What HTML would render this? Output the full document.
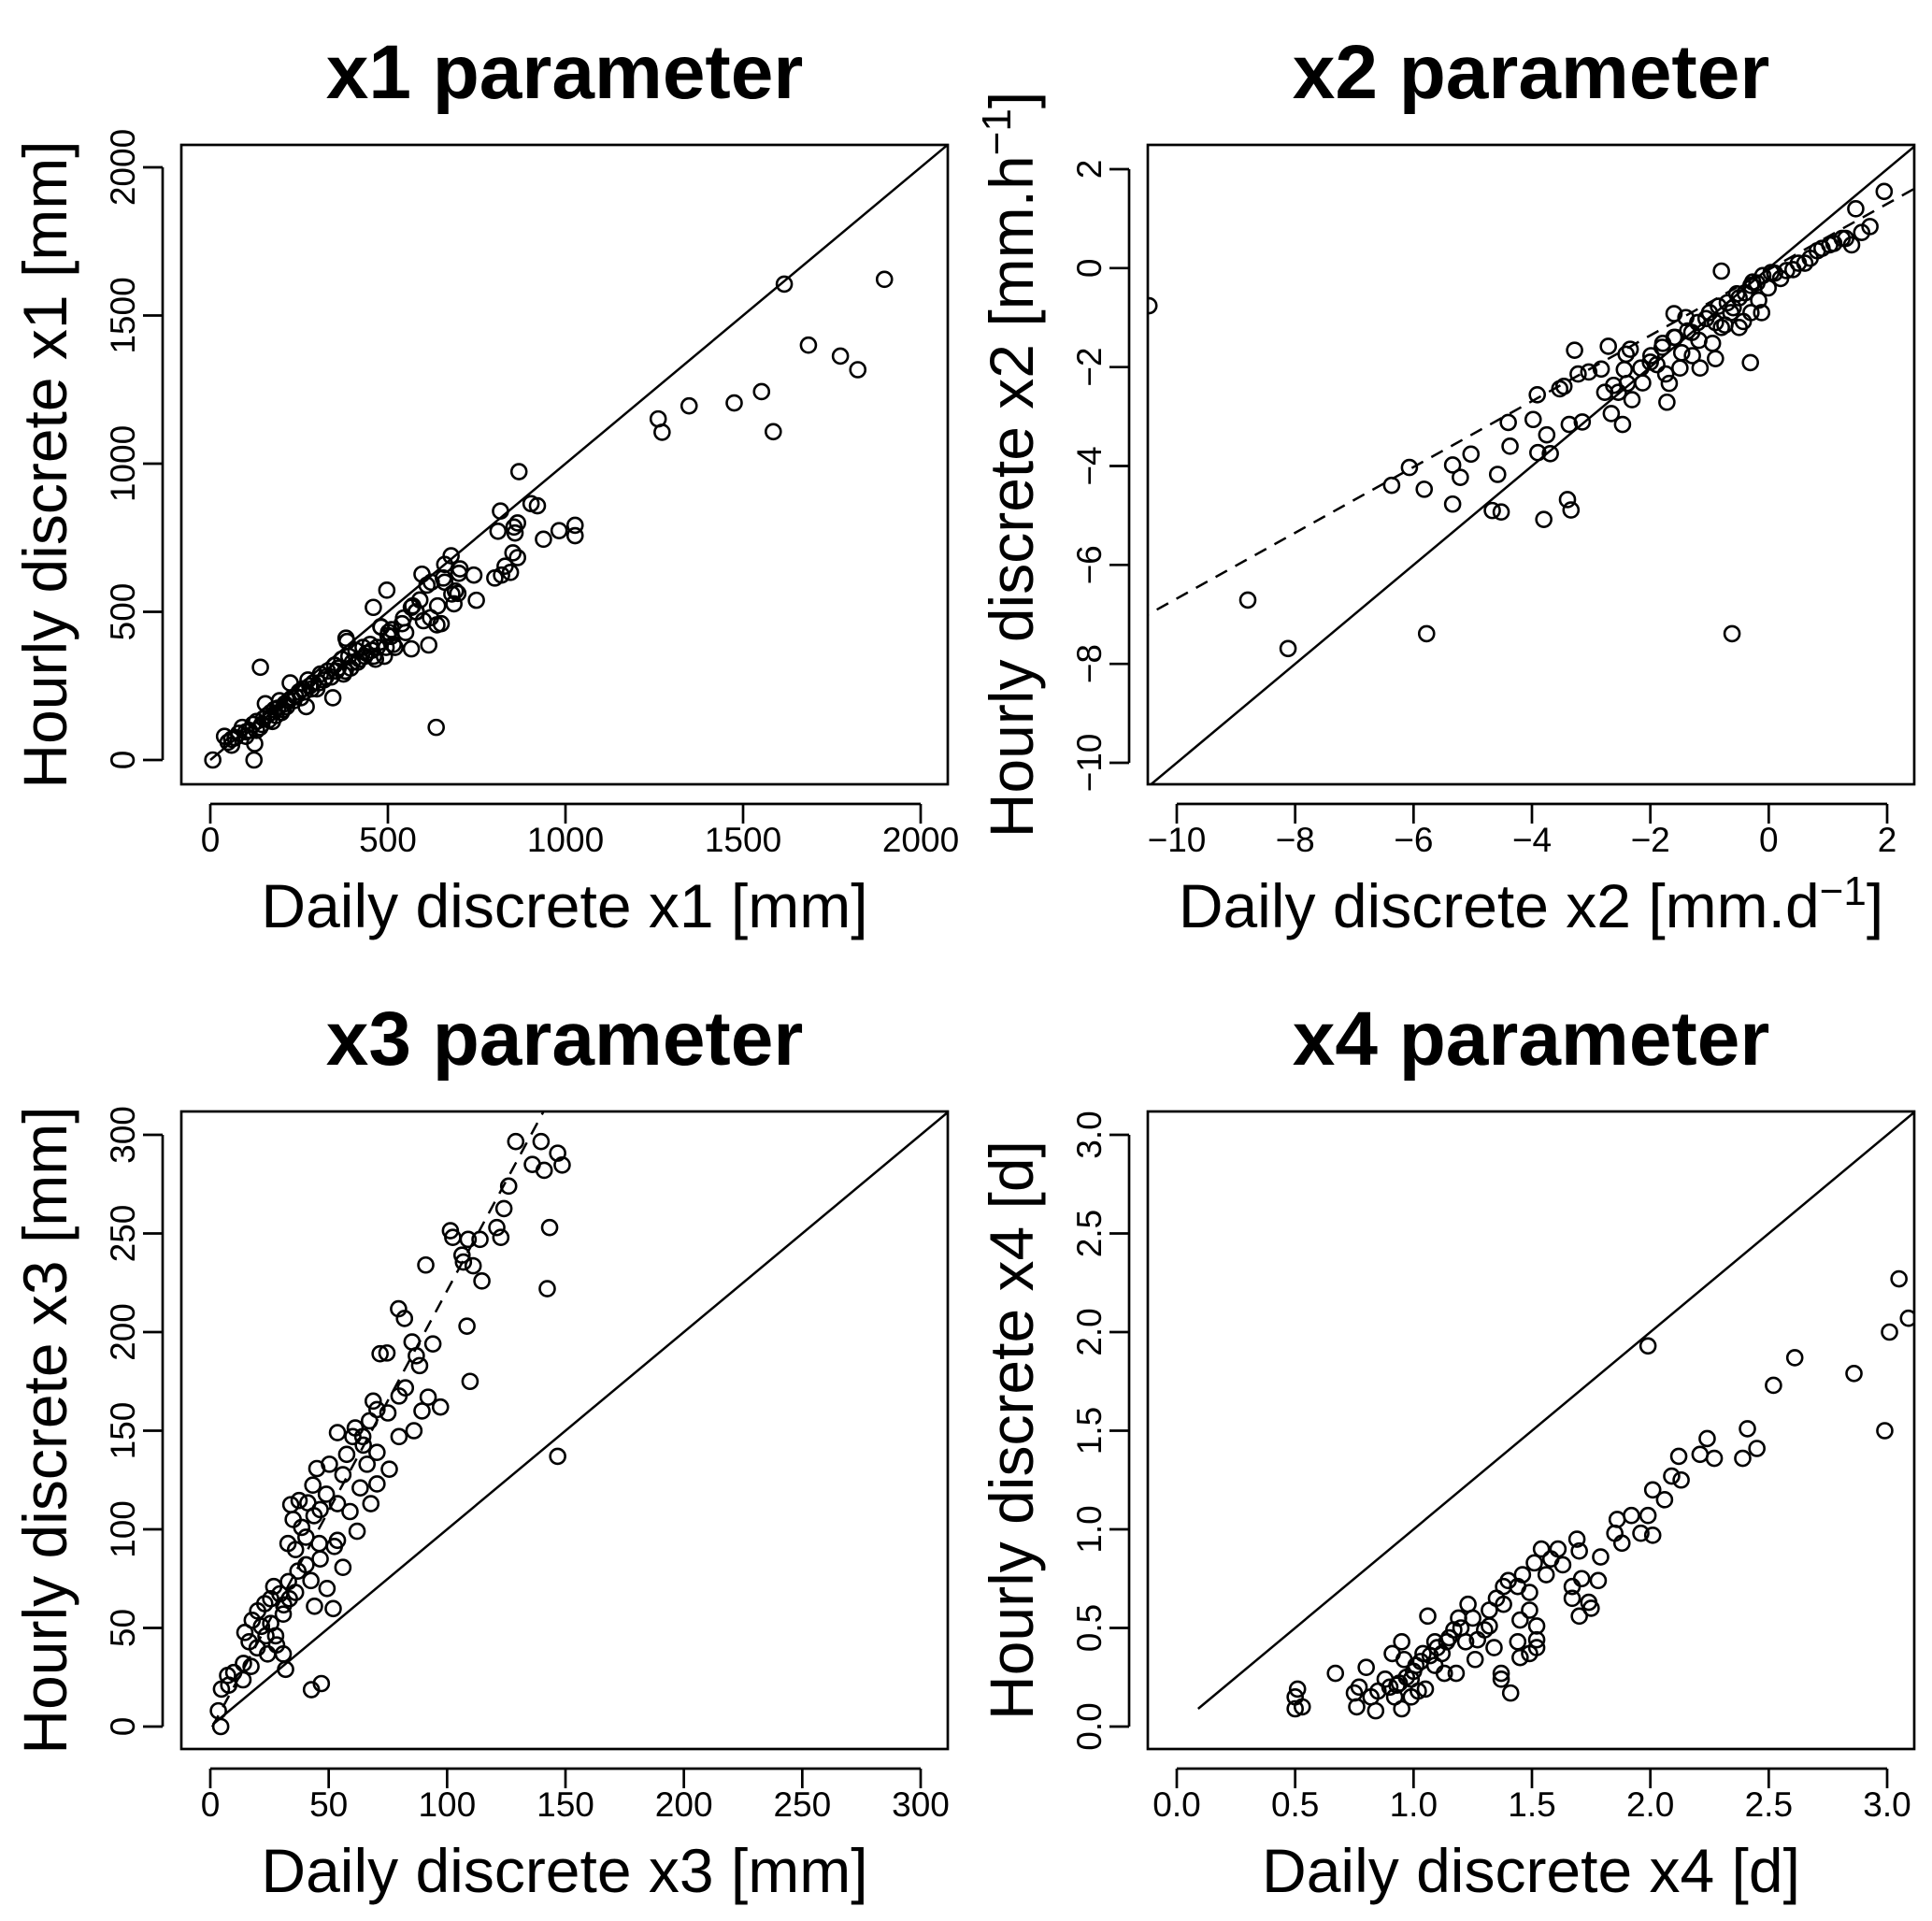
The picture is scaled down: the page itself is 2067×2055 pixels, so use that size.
<!DOCTYPE html>
<html><head><meta charset="utf-8"><style>
html,body{margin:0;padding:0;background:#fff;}
svg{display:block;font-family:"Liberation Sans",Arial,sans-serif;}
</style></head><body>
<svg id="fig" width="2067" height="2055" viewBox="0 0 2067 2055" xmlns="http://www.w3.org/2000/svg"></svg>
<script>
// ---- Panel 1 data (x1) ----
const p1X = [1616,1898,1684,1774,1823,1552,1475,1348,1261,1272,1585,869,817,903,921,982,1027,1027,938,810,855,865,858,845,801,820,830,852,865,678,703,742,749,686,697,660,656,638,596,622,497,459,544,566,579,566,615,481,502,509,636,141,382,7,123,
40,50,60,70,80,90,100,110,120,125,130,140,150,155,160,170,175,180,190,195,200,210,220,225,230,240,250,260,270,275,280,290,300,310,320,330,340,345,350,360,370,380,385,390,400,410,420,430,440,450,460,470,480,490,500,510,520,540,550,570,580,590,600,610,620,640,650,660,680,690,700,
60,100,130,145,165,185,205,215,235,255,265,285,305,325,355,375,395,415,435,455,465,495,515];
const p1Y = [1606,1622,1400,1363,1317,1243,1205,1195,1151,1106,1108,973,840,865,858,774,792,757,745,772,786,800,766,633,614,624,654,699,683,689,645,624,539,527,562,660,614,456,627,600,573,515,479,515,500,375,388,448,431,417,110,313,411,0,0,
80,60,70,75,90,110,95,100,120,55,130,110,140,190,150,160,130,170,175,200,160,190,200,260,210,215,230,240,180,270,250,260,240,290,270,300,280,210,320,310,340,300,400,350,330,370,340,380,360,390,350,380,450,350,420,440,380,460,430,520,500,540,470,590,480,520,460,600,560,570,630,
50,80,100,120,135,150,170,180,200,210,230,240,260,280,300,290,310,330,350,370,340,380,390];
const p1Ticks = [0,500,1000,1500,2000];

// ---- Panel 2 data (x2) ----
const p2X = [-10.47,-8.8,-8.12,-5.78,-0.62,-6.37,-6.07,-5.82,-5.34,-5.21,-5.34,-5.03,-4.58,-4.67,-4.52,-4.40,-4.37,-3.98,-3.91,-3.90,-3.75,-3.69,-3.80,-3.40,-3.34,-3.53,-3.46,-3.37,-3.15,-3.28,-3.22,-3.04,-2.83,-2.77,-2.71,-2.66,-2.62,-2.54,-2.47,-2.44,-2.41,-2.34,-2.31,-2.39,-2.16,-2.13,-1.99,-1.89,-1.79,-1.74,-1.72,-1.68,-1.60,-1.58,-1.50,-1.47,-1.37,-1.29,-1.18,-1.16,-1.06,-0.95,-0.90,-0.85,-0.80,-0.74,-0.64,-0.54,-0.43,-0.31,-0.27,-0.17,-0.12,-0.01,0.04,0.20,0.41,0.61,0.82,1.03,1.24,1.40,1.47,1.57,1.71,1.95,
-1.4,-1.2,-1.0,-0.9,-0.7,-0.6,-0.5,-0.4,-0.3,-0.2,-0.1,0.1,0.3,0.5,0.7,0.9,1.1,1.3,-1.8,-2.0,-1.6,-1.3,-0.8,-0.5,-0.3];
const p2Y = [-0.76,-6.71,-7.69,-7.39,-7.39,-4.39,-4.03,-4.47,-3.98,-4.23,-4.77,-3.76,-4.17,-4.90,-4.93,-3.12,-3.60,-3.06,-2.56,-3.73,-3.37,-3.75,-5.08,-4.68,-4.89,-2.44,-2.39,-3.16,-3.11,-1.66,-2.14,-2.10,-2.04,-2.51,-1.58,-2.94,-2.37,-2.51,-3.16,-2.05,-1.74,-1.64,-2.66,-2.33,-2.02,-2.32,-1.77,-1.95,-1.52,-2.14,-2.71,-2.33,-0.92,-1.40,-2.02,-1.71,-1.27,-1.77,-1.46,-2.02,-1.02,-1.52,-1.83,-0.77,-0.06,-1.15,-0.90,-0.52,-1.08,-1.91,-0.28,-0.65,-0.90,-0.40,-0.09,-0.21,-0.03,0.10,0.35,0.47,0.60,0.47,1.20,0.72,0.84,1.55,
-1.0,-1.1,-0.9,-1.1,-0.7,-0.8,-0.6,-0.5,-0.35,-0.3,-0.15,-0.1,-0.05,0.1,0.2,0.4,0.5,0.6,-1.6,-1.9,-1.4,-1.3,-1.2,-1.2,-0.9];
const p2XTicks = [-10,-8,-6,-4,-2,0,2];
const p2YTicks = [-10,-8,-6,-4,-2,0,2];

// ---- Panel 3 data (x3) ----
const p3X = [129,139.7,136,141,146.7,148.6,143.3,142.3,146.7,126,124,121,122.7,113.9,108.9,101.4,102.4,106.3,106.9,111,114.7,91,108.4,109.7,79.5,82,71.7,74.6,85.2,94,87,88.4,82.4,79.7,92,89.4,97.2,86,79.7,68.8,70.4,75,67.2,60.2,53.7,64.4,70.4,75.6,66.2,67.8,70.4,63.3,56,50.3,45,43.3,49,53.7,59,62,34,37.5,41.2,35,43.8,46.4,38.6,32.8,36,40.4,46,53.7,52.4,46.4,56,40.4,37,42.5,49.3,44,33,36,26.8,25.5,29.4,31,23,20,17.7,21.6,25.5,14.6,16.4,19.8,24.2,28,30.8,23.5,27.6,14,17.2,9.9,7.3,4.7,7.8,13.8,3.4,4.4,31.8,42.7,46.9,51.9,30.8,33.4,57.6,64.6,61.2];
const p3Y = [296.6,296.6,285,282,290.7,284.7,253,222,137,274,262.6,253,248,247,247,251.4,248,239,235.5,233.6,225.9,234,203,175,211.8,206.9,189,189.4,195,194,188,183,171.7,167.6,167,160,162,150,147,165,160.7,159,155,147,149,147,139,130.5,133,113,123,121,127.7,133,130.8,122.4,117.8,113,109,99,112.5,114.6,113.4,105,106.9,110,101,92.8,89.7,96,92.8,94.4,91.3,85,80.7,82,78.8,74,70,61,73.5,68,71,64.8,67.3,61.7,62.3,58.6,53.9,50.8,52.3,47.7,43,39.9,36.8,41.4,36.8,46,46,32,30.5,27.4,25.9,19,21,23.7,8,0,29,18.7,21.8,59.8,57,64.8,138,142.7,151.4];
const p3Ticks = [0,50,100,150,200,250,300];

// ---- Panel 4 data (x4) ----
const p4X = [1.99,3.05,3.09,3.01,2.99,2.86,2.61,2.52,2.41,2.39,2.45,2.24,2.21,2.27,2.12,2.13,2.09,2.01,2.06,1.92,1.99,1.96,2.01,1.86,1.85,1.88,1.79,1.69,1.70,1.78,1.71,1.67,1.70,1.75,1.74,1.67,1.51,1.58,1.63,1.56,1.49,1.52,1.52,1.52,1.49,1.44,1.45,1.45,1.49,1.37,1.37,1.41,1.44,1.40,1.38,1.35,1.32,1.30,1.34,1.32,1.27,1.26,1.23,1.19,1.17,1.14,1.18,1.13,1.09,1.06,1.04,1.05,1.01,0.99,0.96,0.95,0.91,0.93,0.95,0.92,0.88,0.85,0.84,0.80,0.82,0.77,0.75,0.76,0.67,0.51,0.50,0.50,0.53,0.99,1.02,1.09,1.12,1.22,1.38,1.46,1.61,1.54,1.0,1.03,1.07,1.1,1.15,1.2,1.25,0.97,0.94,0.9];
const p4Y = [1.93,2.27,2.07,2.00,1.50,1.79,1.87,1.73,1.51,1.36,1.41,1.46,1.38,1.36,1.37,1.25,1.27,1.20,1.15,1.07,1.07,0.98,0.97,1.05,0.98,0.93,0.86,0.95,0.89,0.74,0.75,0.65,0.56,0.60,0.63,0.71,0.83,0.85,0.82,0.77,0.68,0.51,0.44,0.40,0.37,0.43,0.35,0.54,0.59,0.27,0.24,0.17,0.71,0.74,0.71,0.65,0.59,0.49,0.40,0.51,0.44,0.34,0.62,0.55,0.49,0.43,0.27,0.27,0.43,0.56,0.37,0.19,0.31,0.24,0.34,0.43,0.37,0.21,0.09,0.15,0.24,0.18,0.08,0.30,0.15,0.20,0.17,0.10,0.27,0.19,0.15,0.09,0.10,0.15,0.18,0.31,0.37,0.43,0.62,0.77,0.90,0.90,0.28,0.33,0.36,0.40,0.45,0.5,0.55,0.25,0.22,0.2];
const p4Ticks = [0.0,0.5,1.0,1.5,2.0,2.5,3.0];

// reference lines: [intercept, slope, xStart, xEnd]
const p1Solid = [0, 1, 0, 2100];
const p2Solid = [0, 1, -11, 3];
const p2Dash  = [-0.03, 0.665, -11, 3];
const p3Solid = [0, 1, 1, 320];
const p3Dash  = [-2, 2.23, 0.8, 145];
const p4Solid = [0, 1, 0.09, 3.2];

const NS = "http://www.w3.org/2000/svg";
const svg = document.getElementById('fig');
function mk(tag, attrs, parent){
  const e = document.createElementNS(NS, tag);
  for (const k in attrs) e.setAttribute(k, attrs[k]);
  (parent || svg).appendChild(e);
  return e;
}
function scale(v0,p0,v1,p1){ return v => p0 + (v - v0) * (p1 - p0) / (v1 - v0); }

function panel(o){
  const g = mk('g', {});
  
  
  const sx = scale(o.xv[0], o.xp[0], o.xv[1], o.xp[1]);
  const sy = scale(o.yv[0], o.yp[0], o.yv[1], o.yp[1]);
  const L = o.box[0], T = o.box[1], R = o.box[2], B = o.box[3];
  const cid = 'clip-' + o.name;
  const cp = mk('clipPath', {id: cid}, g);
  mk('rect', {x: L, y: T, width: R - L, height: B - T}, cp);
  // title
  const t = mk('text', {x: (L + R) / 2, y: T - 50, 'text-anchor': 'middle', 'font-size': 82, 'font-weight': 'bold'}, g);
  
  
  t.textContent = o.title;
  // plot area
  const pa = mk('g', {'clip-path': 'url(#' + cid + ')'}, g);
  
  
  o.lines.forEach(ln => {
    const [a, b, x0, x1] = ln.d;
    const l = mk('line', {x1: sx(x0), y1: sy(a + b * x0), x2: sx(x1), y2: sy(a + b * x1), stroke: '#000', 'stroke-width': 2.5, 'stroke-dasharray': ln.dash ? '14 10' : 'none'}, pa);
    
    
  });
  for (let i = 0; i < o.x.length; i++){
    const c = mk('circle', {cx: sx(o.x[i]), cy: sy(o.y[i]), r: 8, fill: 'none', stroke: '#000', 'stroke-width': 2.6}, pa);
    
    
  }
  // box
  const bx = mk('rect', {x: L, y: T, width: R - L, height: B - T, fill: 'none', stroke: '#000', 'stroke-width': 2.7}, g);
  
  
  // x axis
  const xa = mk('g', {}, g);
  
  
  mk('line', {x1: sx(o.xt[0]), y1: B + 21, x2: sx(o.xt[o.xt.length - 1]), y2: B + 21, stroke: '#000', 'stroke-width': 2.7}, xa);
  o.xt.forEach((v, i) => {
    mk('line', {x1: sx(v), y1: B + 21, x2: sx(v), y2: B + 42, stroke: '#000', 'stroke-width': 2.7}, xa);
    const tl = mk('text', {x: sx(v), y: B + 72, 'text-anchor': 'middle', 'font-size': 37}, xa);
    
    
    tl.textContent = o.xl[i];
  });
  // y axis
  const ya = mk('g', {}, g);
  
  
  mk('line', {x1: L - 20, y1: sy(o.yt[0]), x2: L - 20, y2: sy(o.yt[o.yt.length - 1]), stroke: '#000', 'stroke-width': 2.7}, ya);
  o.yt.forEach((v, i) => {
    mk('line', {x1: L - 20, y1: sy(v), x2: L - 41, y2: sy(v), stroke: '#000', 'stroke-width': 2.7}, ya);
    const tl = mk('text', {x: L - 50, y: sy(v), 'text-anchor': 'middle', 'font-size': 37, transform: 'rotate(-90 ' + (L - 50) + ' ' + sy(v) + ')'}, ya);
    
    
    tl.textContent = o.yl[i];
  });
  // axis titles
  const xt = mk('text', {x: (L + R) / 2, y: B + 153, 'text-anchor': 'middle', 'font-size': 66}, g);
  
  
  xt.innerHTML = o.xlab;
  const yx = L - 123, yy = (T + B) / 2;
  const yt = mk('text', {x: yx, y: yy, 'text-anchor': 'middle', 'font-size': 66, transform: 'rotate(-90 ' + yx + ' ' + yy + ')'}, g);
  
  
  yt.innerHTML = o.ylab;
}
const sup = '<tspan baseline-shift="super" font-size="44">\u22121</tspan>';
const fmt1 = a => a.map(v => v.toFixed(1));
const fmtM = a => a.map(v => String(v).replace('-', '\u2212'));

panel({name: 'panel-x1', title: 'x1 parameter', box: [194, 155, 1014, 839],
  xv: [0, 2000], xp: [225, 985], yv: [0, 2000], yp: [813, 179],
  xt: p1Ticks, xl: p1Ticks.map(String), yt: p1Ticks, yl: p1Ticks.map(String),
  x: p1X, y: p1Y, lines: [{d: p1Solid}],
  xlab: 'Daily discrete x1 [mm]', ylab: 'Hourly discrete x1 [mm]'});
panel({name: 'panel-x2', title: 'x2 parameter', box: [1228, 155, 2048, 839],
  xv: [-10, 2], xp: [1259, 2019], yv: [-10, 2], yp: [816, 181],
  xt: p2XTicks, xl: fmtM(p2XTicks), yt: p2YTicks, yl: fmtM(p2YTicks),
  x: p2X, y: p2Y, lines: [{d: p2Solid}, {d: p2Dash, dash: true}],
  xlab: 'Daily discrete x2 [mm.d' + sup + '<tspan baseline-shift="0">]</tspan>', ylab: 'Hourly discrete x2 [mm.h' + sup + '<tspan baseline-shift="0">]</tspan>'});
panel({name: 'panel-x3', title: 'x3 parameter', box: [194, 1189, 1014, 1871],
  xv: [0, 300], xp: [225, 985], yv: [0, 300], yp: [1847, 1214],
  xt: p3Ticks, xl: p3Ticks.map(String), yt: p3Ticks, yl: p3Ticks.map(String),
  x: p3X, y: p3Y, lines: [{d: p3Solid}, {d: p3Dash, dash: true}],
  xlab: 'Daily discrete x3 [mm]', ylab: 'Hourly discrete x3 [mm]'});
panel({name: 'panel-x4', title: 'x4 parameter', box: [1228, 1189, 2048, 1871],
  xv: [0, 3], xp: [1259, 2019], yv: [0, 3], yp: [1847, 1214],
  xt: p4Ticks, xl: fmt1(p4Ticks), yt: p4Ticks, yl: fmt1(p4Ticks),
  x: p4X, y: p4Y, lines: [{d: p4Solid}],
  xlab: 'Daily discrete x4 [d]', ylab: 'Hourly discrete x4 [d]'});
</script>
</body></html>
